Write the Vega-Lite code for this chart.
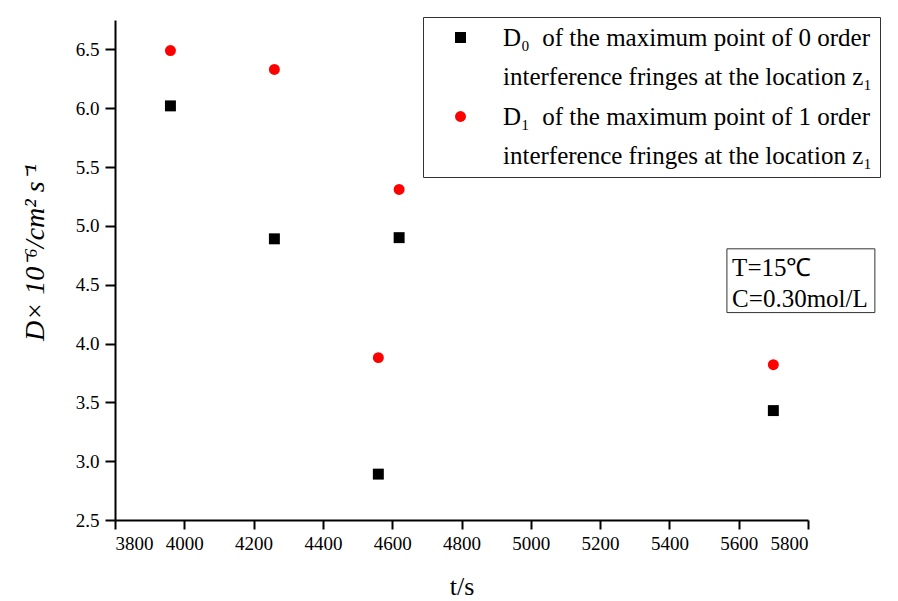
{
  "$schema": "https://vega.github.io/schema/vega-lite/v6.json",
  "width": 693,
  "height": 500,
  "autosize": "none",
  "padding": {"left": 115, "top": 20, "right": 90, "bottom": 81},
  "background": "white",
  "config": {
    "font": "Liberation Serif",
    "view": {"stroke": null},
    "axis": {
      "grid": false,
      "labelFont": "Liberation Serif",
      "titleFont": "Liberation Serif",
      "labelFontSize": 19,
      "labelColor": "black",
      "tickColor": "black",
      "domainColor": "black",
      "domainWidth": 2,
      "tickWidth": 2,
      "titleFontWeight": "normal",
      "titleColor": "black"
    },
    "style": {
      "guide-label": {"lineHeight": 39, "font": "Liberation Serif"},
      "guide-title": {"font": "Liberation Serif"}
    }
  },
  "datasets": {
    "points": [
      {"t": 3960, "D": 6.02, "series": "D0"},
      {"t": 4260, "D": 4.89, "series": "D0"},
      {"t": 4560, "D": 2.89, "series": "D0"},
      {"t": 4620, "D": 4.9, "series": "D0"},
      {"t": 5700, "D": 3.43, "series": "D0"},
      {"t": 3960, "D": 6.49, "series": "D1"},
      {"t": 4260, "D": 6.33, "series": "D1"},
      {"t": 4560, "D": 3.88, "series": "D1"},
      {"t": 4620, "D": 5.31, "series": "D1"},
      {"t": 5700, "D": 3.82, "series": "D1"}
    ],
    "note": [{"label": "conditions"}]
  },
  "layer": [
    {
      "data": {"name": "points"},
      "mark": {"type": "point", "filled": true, "opacity": 1, "size": 120},
      "encoding": {
        "x": {
          "field": "t", "type": "quantitative",
          "scale": {"domain": [3800, 5800], "nice": false, "zero": false},
          "axis": {
            "orient": "bottom",
            "values": [3800, 3900, 4000, 4100, 4200, 4300, 4400, 4500, 4600, 4700, 4800, 4900, 5000, 5100, 5200, 5300, 5400, 5500, 5600, 5700, 5800],
            "labelExpr": "datum.value % 200 == 0 ? format(datum.value, 'd') : ''",
            "tickSize": {"condition": {"test": "datum.value % 200 == 0", "value": 9}, "value": 5},
            "labelPadding": 5, "labelFont": "Liberation Serif", "labelFontSize": 19,
            "title": "t/s", "titleFont": "Liberation Serif", "titleFontSize": 26, "titlePadding": 20
          }
        },
        "y": {
          "field": "D", "type": "quantitative",
          "scale": {"domain": [2.5, 6.75], "nice": false, "zero": false},
          "axis": {
            "orient": "left",
            "values": [2.5, 2.75, 3, 3.25, 3.5, 3.75, 4, 4.25, 4.5, 4.75, 5, 5.25, 5.5, 5.75, 6, 6.25, 6.5, 6.75],
            "labelExpr": "abs(datum.value * 2 - round(datum.value * 2)) < 0.001 ? format(datum.value, '.1f') : ''",
            "tickSize": {"condition": {"test": "abs(datum.value * 2 - round(datum.value * 2)) < 0.001", "value": 10}, "value": 5},
            "labelPadding": 6, "labelFont": "Liberation Serif", "labelFontSize": 19,
            "title": "D× 10⁻⁶/cm² s⁻¹", "titleFont": "Liberation Serif", "titleFontSize": 28, "titleFontStyle": "italic", "titlePadding": 26, "titleY": 232
          }
        },
        "color": {
          "field": "series", "type": "nominal",
          "scale": {"domain": ["D0", "D1"], "range": ["black", "red"]},
          "legend": {
            "orient": "none", "legendX": 308, "legendY": -3,
            "title": null,
            "strokeColor": "#333", "padding": 8,
            "symbolOffset": 17, "symbolSize": 120, "symbolStrokeWidth": 0,
            "labelFont": "Liberation Serif", "labelFontSize": 25, "labelColor": "black",
            "labelLimit": 0, "labelAlign": "left", "labelOffset": 30,
            "labelBaseline": "middle", "rowPadding": 14,
            "labelExpr": "datum.label == 'D0' ? ['D₀\u00a0\u00a0of the maximum point of 0 order', 'interference fringes at the location z₁'] : ['D₁\u00a0\u00a0of the maximum point of 1 order', 'interference fringes at the location z₁']"
          }
        },
        "shape": {
          "field": "series", "type": "nominal",
          "scale": {"domain": ["D0", "D1"], "range": ["square", "circle"]}
        }
      }
    },
    {
      "data": {"name": "note"},
      "mark": {"type": "rect", "fill": "white", "stroke": "#333", "strokeWidth": 1},
      "encoding": {
        "x": {"datum": 5566, "type": "quantitative"},
        "x2": {"datum": 5993},
        "y": {"datum": 4.805, "type": "quantitative"},
        "y2": {"datum": 4.263}
      }
    },
    {
      "data": {"name": "note"},
      "mark": {"type": "text", "align": "left", "baseline": "middle", "lineHeight": 31, "fontSize": 25, "font": "Liberation Serif", "color": "black", "text": ["T=15℃", "C=0.30mol/L"]},
      "encoding": {
        "x": {"datum": 5581, "type": "quantitative"},
        "y": {"datum": 4.644, "type": "quantitative"}
      }
    }
  ]
}
